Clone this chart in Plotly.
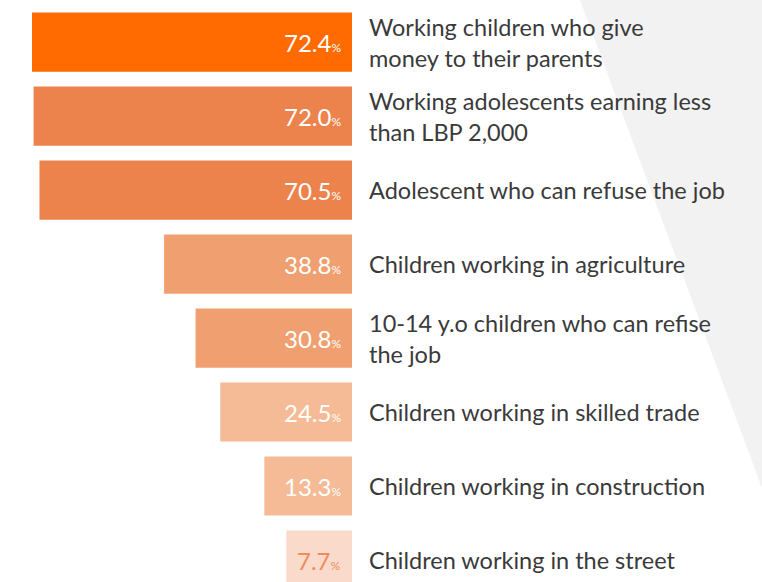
import plotly.graph_objects as go

# Share of children / adolescents (%) for each indicator
categories = [
    "Working children who give<br>money to their parents",
    "Working adolescents earning less<br>than LBP 2,000",
    "Adolescent who can refuse the job",
    "Children working in agriculture",
    "10-14 y.o children who can refise<br>the job",
    "Children working in skilled trade",
    "Children working in construction",
    "Children working in the street",
]
values = [72.4, 72.0, 70.5, 38.8, 30.8, 24.5, 13.3, 7.7]
bar_colors = ["#FF6B00", "#EC834D", "#EC834D", "#F0A070",
              "#F0A070", "#F4BB96", "#F4BB96", "#FADACA"]
value_text_colors = ["#FFFFFF"] * 7 + ["#EE8D5A"]

# every bar starts from a common stub so the value labels fit inside
BAR_BASE = -9

W, H = 762, 582
fig = go.Figure()

fig.add_trace(go.Bar(
    x=[v - BAR_BASE for v in values],
    base=BAR_BASE,
    y=categories,
    orientation="h",
    width=0.8,
    marker=dict(color=bar_colors, line=dict(width=0)),
    hoverinfo="skip",
))

annotations = []
for cat, v, tc in zip(categories, values, value_text_colors):
    # value label at the right end of each bar
    annotations.append(dict(
        x=BAR_BASE, y=cat, xref="x", yref="y",
        xanchor="right", yanchor="middle", xshift=-9,
        text=f"{v:.1f}<span style='font-size:12px'>%</span>",
        showarrow=False,
        font=dict(family="Lato, sans-serif", size=24, color=tc),
    ))
    # indicator name to the right of the bars
    annotations.append(dict(
        x=367 / W, y=cat, xref="paper", yref="y",
        xanchor="left", yanchor="middle", align="left",
        text=cat,
        showarrow=False,
        font=dict(family="Lato, sans-serif", size=23.5, color="#3A3A3A"),
    ))

fig.update_layout(
    width=W, height=H,
    margin=dict(l=0, r=0, t=0, b=0),
    paper_bgcolor="white",
    plot_bgcolor="rgba(0,0,0,0)",
    showlegend=False,
    annotations=annotations,
    shapes=[dict(
        type="path", xref="paper", yref="paper",
        path=f"M {580 / W} 1 L 1 1 L 1 {1 - 488 / H} Z",
        fillcolor="#F2F2F2", line=dict(width=0), layer="below",
    )],
    xaxis=dict(
        domain=[32 / W, 352 / W],
        range=[max(values), BAR_BASE],
        visible=False, fixedrange=True,
    ),
    yaxis=dict(
        type="category",
        categoryorder="array", categoryarray=categories,
        range=[7.297, -0.568],
        visible=False, fixedrange=True,
    ),
)

fig.write_html("out.html")
